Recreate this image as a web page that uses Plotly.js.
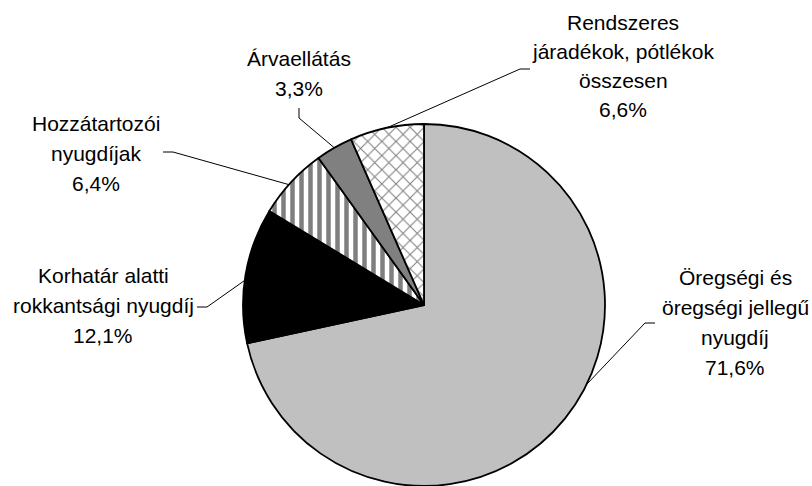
<!DOCTYPE html>
<html>
<head>
<meta charset="utf-8">
<script src="https://cdn.plot.ly/plotly-3.0.1.min.js"></script>
<style>
  html, body { margin: 0; padding: 0; background: #fff; }
  #chart { width: 812px; height: 486px; }
</style>
</head>
<body>
<div id="chart"></div>
<script>
// Slices, clockwise from 12 o'clock
const categories = [
  'Öregségi és öregségi jellegű nyugdíj',
  'Korhatár alatti rokkantsági nyugdíj',
  'Hozzátartozói nyugdíjak',
  'Árvaellátás',
  'Rendszeres járadékok, pótlékok összesen',
];
const shares = [71.6, 12.1, 6.4, 3.3, 6.6];
const labelLines = [
  ['Öregségi és', 'öregségi jellegű', 'nyugdíj'],
  ['Korhatár alatti', 'rokkantsági nyugdíj'],
  ['Hozzátartozói', 'nyugdíjak'],
  ['Árvaellátás'],
  ['Rendszeres', 'járadékok, pótlékok', 'összesen'],
];

const sliceColors = ['#c0c0c0', '#000000', '#ffffff', '#808080', '#ffffff'];
const slicePatterns = ['', '', '|', '', 'x'];

const W = 812, H = 486;
const pieCx = 424, pieCy = 305, pieR = 181;

// label placement (px): centre x, first line y, line step; leader elbow points + spot on the slice
const labelPos = [
  { x: 735, y: 277, step: 30,   leader: [[655, 323], [645, 323]], frac: 0.45 },
  { x: 103, y: 275, step: 30,   leader: [[197, 307], [207, 307]], frac: 0.46 },
  { x: 96,  y: 123, step: 30,   leader: [[163, 152], [173, 152]], frac: 0.45 },
  { x: 299, y: 58,  step: 30,   leader: [[299, 108], [299, 118]], frac: 0.5 },
  { x: 623, y: 22,  step: 29,   leader: [[530, 69],  [520, 69]],  frac: 0.5 },
];

const px = x => x / W;
const py = y => 1 - y / H;
const fmtPct = v => v.toFixed(1).replace('.', ',') + '%';

const total = shares.reduce((a, b) => a + b, 0);
const annotations = [];
const shapes = [];
let cum = 0;

shares.forEach((v, i) => {
  const pos = labelPos[i];
  const lines = [...labelLines[i], fmtPct(v)];
  lines.forEach((txt, k) => {
    annotations.push({
      text: txt,
      x: px(pos.x), y: py(pos.y + k * pos.step),
      xref: 'paper', yref: 'paper',
      xanchor: 'center', yanchor: 'middle',
      showarrow: false,
      font: { family: 'Liberation Sans, Arial, sans-serif', size: 21, color: '#000' },
    });
  });

  // point on the pie edge inside this slice
  const ang = (cum + v * pos.frac) / total * 2 * Math.PI;
  const ex = pieCx + pieR * Math.sin(ang);
  const ey = pieCy - pieR * Math.cos(ang);
  cum += v;

  const pts = [...pos.leader, [ex, ey]];
  const path = pts.map((p, k) => `${k ? 'L' : 'M'} ${px(p[0])} ${py(p[1])}`).join(' ');
  shapes.push({
    type: 'path', xref: 'paper', yref: 'paper', path,
    line: { color: '#000', width: 1 },
    layer: 'above',
  });
});

const trace = {
  type: 'pie',
  labels: categories,
  values: shares,
  sort: false,
  direction: 'clockwise',
  rotation: 0,
  textinfo: 'none',
  hoverinfo: 'skip',
  showlegend: false,
  domain: {
    x: [px(pieCx - pieR), px(pieCx + pieR)],
    y: [py(pieCy + pieR), py(pieCy - pieR)],
  },
  marker: {
    colors: sliceColors,
    line: { color: '#000', width: 1.8 },
    pattern: {
      shape: slicePatterns,
      fillmode: 'overlay',
      fgcolor: '#000',
      size: [8, 8, 9, 8, 10],
      solidity: [0.3, 0.3, 0.5, 0.3, 0.2],
    },
  },
};

const layout = {
  width: W,
  height: H,
  margin: { t: 0, r: 0, b: 0, l: 0 },
  paper_bgcolor: '#fff',
  plot_bgcolor: '#fff',
  showlegend: false,
  annotations,
  shapes,
};

Plotly.newPlot('chart', [trace], layout, { staticPlot: true, displayModeBar: false });
</script>
</body>
</html>
